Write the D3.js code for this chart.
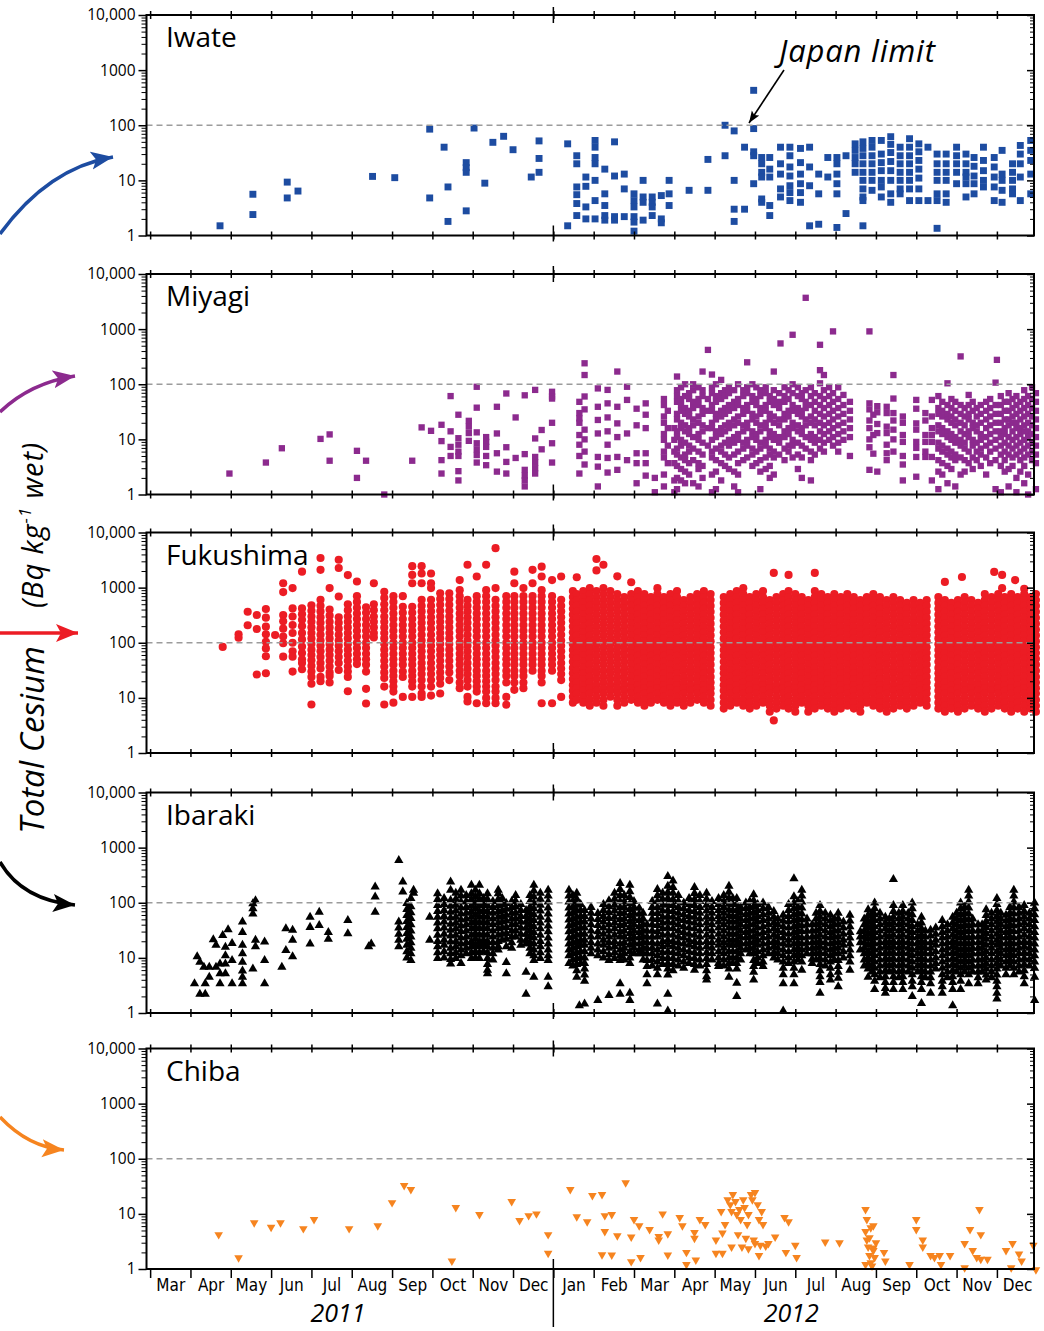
<!DOCTYPE html>
<html lang="en">
<head>
<meta charset="UTF-8" />
<title>Total cesium in food by prefecture</title>
<style>
  body { margin: 0; background: white; }
  svg { display: block; }
  .yaxis text { font-family: "Open Sans", sans-serif; font-size: 15.5px; fill: #000; }
  .months text { font-family: "Liberation Sans Narrow", "DejaVu Sans Condensed", sans-serif; font-size: 17px; fill: #000; }
  .title { font-family: "Open Sans", sans-serif; font-size: 28px; fill: #000; }
  .ital { font-family: "Open Sans", sans-serif; font-style: italic; fill: #000; }
</style>
</head>
<body>
<svg id="chart" width="1044" height="1331"></svg>
<script src="https://d3js.org/d3.v7.min.js"></script>
<script>
const prefectures = ["Iwate", "Miyagi", "Fukushima", "Ibaraki", "Chiba"];
const colors = ["#1d4ca1", "#8c2a8e", "#ec1c24", "#000000", "#f6841f"];
const shapes = ["square", "smallsquare", "circle", "up", "down"];
const yTicks = [1, 10, 100, 1000, 10000];
const yTickLabels = ["1", "10", "100", "1000", "10,000"];
const monthLabels = ["Mar","Apr","May","Jun","Jul","Aug","Sep","Oct","Nov","Dec",
                     "Jan","Feb","Mar","Apr","May","Jun","Jul","Aug","Sep","Oct","Nov","Dec"];
const years = ["2011", "2012"];
const japanLimit = 100;

// each row: sampling date : measured values (Bq/kg wet)
const iwate = [
"2011-04-23:1.5","2011-05-18:5.6,2.4","2011-06-13:9.3,4.8","2011-06-21:6.4","2011-08-17:11.8",
"2011-09-03:11.2","2011-09-29:85,4.8","2011-10-10:40","2011-10-13:7.6,1.8","2011-10-27:21,17,14,2.8",
"2011-11-02:89","2011-11-10:8.9","2011-11-16:49","2011-11-24:63","2011-12-01:36","2011-12-15:11.5",
"2011-12-21:52,25,14","2012-01-12:46,1.5","2012-01-19:28,20,7.6,5.5,3.8,2.3","2012-01-26:11.5,7.8,3.3,2",
"2012-02-02:53,40,26,20,10,4.3,2","2012-02-09:16,5.7,3.5,2.3,1.9","2012-02-16:50,12,2.2,1.9",
"2012-02-23:13,7,2.2","2012-03-01:5.7,4.3,3.3,2.2,1.75,1.2","2012-03-08:10,5,4,1.9","2012-03-15:5,4,3.3,2.3",
"2012-03-22:5.3,2,1.7","2012-03-28:10,5.7,3.5","2012-04-12:6.6","2012-04-26:24,6.6","2012-05-09:100,28",
"2012-05-16:79,10,3,1.8","2012-05-24:40,3","2012-05-31:430,87,33,28,8.7","2012-06-06:26,20,14,11.5,4.6,4",
"2012-06-12:26,16,11.5,3.5,2.3","2012-06-20:40,20,13,7,5","2012-06-27:40,28,17.5,12,8,6,4.3",
"2012-07-05:38,21,13,8.7,6,4","2012-07-12:40,17.5,8,1.5","2012-07-19:13,5.7,1.6","2012-07-26:26,11.5",
"2012-08-02:26,20,13,8.7,5.7,1.4","2012-08-09:28,2.5","2012-08-16:46,35,26,20,14",
"2012-08-22:50,38,28,20,14,10,7,5,4.3,1.5","2012-08-29:53,40,28,20,14,10,6.6","2012-09-05:53,30,21,15,10,7.6,5",
"2012-09-12:62,45,32,22,15,10,5.7,4","2012-09-19:40,28,20,14,10,7,5.7","2012-09-26:57,40,28,20,14,10,7,4.3",
"2012-10-03:46,33,23,16,11,7,4.3","2012-10-10:40,4.3","2012-10-17:30,20,14,10,5.7,4.3,1.35",
"2012-10-24:30,20,14,10,5.7,4","2012-11-01:40,28,20,14,8.7","2012-11-08:30,20,14,11.5,8.7,5",
"2012-11-14:26,18,12,8.7,5.7","2012-11-21:40,23,15,10,7.6","2012-11-29:26,17.5,11.5,7.6,4.3",
"2012-12-05:35,13,10,6.6,4","2012-12-13:20,14,10,7,5.7","2012-12-19:43,30,20,11.5,4.3","2012-12-27:53,35,23,13,5.7"
];

const miyagi = [
"2011-04-30:2.4","2011-05-28:3.8","2011-06-09:6.9","2011-07-08:10.2","2011-07-15:12.3,4.1","2011-08-05:6.2,2",
"2011-08-12:4.1","2011-08-26:1","2011-09-16:4.1","2011-09-23:16.5","2011-09-30:14.3","2011-10-08:18.4,9.3,4.2,2.4",
"2011-10-15:61,14,7.3,5","2011-10-21:28,10.5,8,6,5,2.65,1.8","2011-10-29:21.7,17,13,9.4",
"2011-11-04:90,37.6,13.4,8.5,6.6,5.2,3.8","2011-11-11:11,9,7.3,5,3.4","2011-11-19:39,12.8,5.6,2.6",
"2011-11-26:68,7.2,3.9,2.4","2011-12-03:25,4.6","2011-12-10:63,5.4,2.8,2.2,1.8,1.4","2011-12-18:79,10.4,4.8,3.8,3,2.4",
"2011-12-23:14.8,6.6","2011-12-31:73,60,55,20,8.5,3.8","2012-01-21:48,30,24,20,12,8,5,2.4",
"2012-01-25:240,147,60,35,15,10,6,3.5","2012-02-04:84,39,22.5,12.8,4.8,3.2,1.4","2012-02-11:79,45,25,14,8,4.6,2.5",
"2012-02-18:170,39,19.5,11,4.8,2.8","2012-02-25:90,52,12.8,4.2","2012-03-03:36,18,5.6,3.7,1.6",
"2012-03-10:45,28,16,5.6,3.7,2.2","2012-03-17:2,1.1","2012-03-24:54,42,26,20,12.5,9.8,6,4.7,2.3,1.4",
"2012-03-27:33,16,7.7,3.7","2012-04-01:16,9.8,6,3.7,1.8,1.1","2012-04-03:138,78,61,48,29,23,14,11,6.8,5.3,3.3,2,1.25",
"2012-04-06:88,54,42,33,20,16,9.8,7.7,4.7,2.9,1.8","2012-04-09:100,61,37,29,18,14,8.7,5.3,4.2,2.6,1.6",
"2012-04-12:69,54,33,26,16,12.5,7.7,6,3.7,2.3","2012-04-15:100,78,48,37,23,18,11,6.8,4.2,1.6",
"2012-04-19:88,54,42,26,20,12.5,9.8,6,3.7,2.9,1.4","2012-04-22:170,78,61,37,29,18,14,8.7,5.3,3.3,2",
"2012-04-26:420,54,33,16,7.7","2012-04-29:150,88,69,42,33,20,16,9.8,6,4.7,2.3,1.1",
"2012-05-02:100,61,48,29,23,14,11,6.8,4.2,2.6,1.25","2012-05-06:120,69,54,33,26,16,12.5,7.7,6,3.7,1.8",
"2012-05-09:78,61,37,29,18,14,8.7,5.3,3.3","2012-05-12:88,69,42,33,20,16,9.8,7.7,4.7,2.9",
"2012-05-16:78,48,37,23,18,11,8.7,5.3,2.6,1.4","2012-05-19:100,54,42,26,20,12.5,9.8,6,3.7,2.3,1.1",
"2012-05-23:78,61,37,29,18,14,8.7,6.8,4.2","2012-05-26:250,88,69,42,33,20,16,9.8,7.7,4.7",
"2012-05-30:100,61,48,29,23,14,11,6.8,5.3,3.3","2012-06-02:88,54,42,26,20,12.5,9.8,6,3.7",
"2012-06-05:78,61,37,29,18,14,8.7,6.8,4.2,2.6,1.25","2012-06-09:88,69,42,33,20,16,9.8,7.7,4.7,2.9",
"2012-06-12:61,48,29,23,14,11,6.8,5.3,3.3,2","2012-06-15:170,78,54,42,26,20,12.5,9.8,6,4.7,2.3",
"2012-06-19:69,48,37,23,18,11,8.7,5.3","2012-06-20:550","2012-06-23:88,61,48,29,23,14,11,6.8,4.2",
"2012-06-26:78,54,33,26,16,12.5,7.7,6","2012-06-29:790,100,69,42,33,20,16,9.8,7.7,4.7",
"2012-07-03:88,61,37,29,18,14,8.7,5.3,2.9","2012-07-06:69,54,33,26,16,12.5,7.7,4.7,2",
"2012-07-09:3700,78,48,37,23,18,11,6.8","2012-07-13:88,61,42,26,20,12.5,9.8,6,4.2,1.8",
"2012-07-16:69,48,33,23,18,11,8.7,5.3","2012-07-20:520,180,104,61,42,29,20,14,9.8,6.8",
"2012-07-23:147,78,54,37,26,18,12.5,8.7,6","2012-07-27:88,61,42,29,20,14,9.8",
"2012-07-30:910,69,48,33,23,16,11,7.7","2012-08-03:88,54,37,26,18,12.5,8.7,6","2012-08-07:64,42,29,20,14,9.8",
"2012-08-12:48,33,23,16,11,5","2012-08-27:910,45,35,22,16,10,7.2,2.8","2012-08-30:28,12,5.5",
"2012-09-02:40,31,19,13,2.6","2012-09-09:39,30,17,13,8,5.6,4.2","2012-09-14:147,55,30,22,15,10,6",
"2012-09-21:26,20,12,9,5,3.5,1.8","2012-10-01:52,36,19.5,15,9,7,4.8,2.1","2012-10-08:30,22,12,9,6,4.8",
"2012-10-13:52,26,16,12,9,4.8,1.8","2012-10-18:61,37,29,18,14,8.7,6.8,4.2,2.6,1.25","2012-10-21:48,33,26,16,12.5,7.7,6,3.7,2.3",
"2012-10-25:104,42,29,23,14,11,6.8,5.3,3.3,1.6","2012-10-28:54,37,26,20,12.5,9.8,6,4.7,2.9",
"2012-10-31:48,33,23,18,11,8.7,5.3,4.2,1.4","2012-11-04:320,42,29,20,14,9.8,7.7,4.7,2.3",
"2012-11-07:37,26,18,12.5,8.7,6.8,4.2,2.6","2012-11-10:64,42,29,23,14,11,6,3.7","2012-11-13:48,33,20,16,9.8,7.7,4.7,2.9",
"2012-11-16:37,26,18,14,8.7,6,4.2","2012-11-19:42,29,20,12.5,9.8,6.8,5.3,3.3","2012-11-23:48,33,23,16,11,7.7,4.7,2.3",
"2012-11-26:54,37,26,18,12.5,8.7,6,3.7","2012-11-30:107,42,29,20,14,9.8,6.8,4.2,1.25","2012-12-01:277",
"2012-12-04:61,42,29,20,14,11,7.7,5.3,3.3,1.1","2012-12-07:48,33,23,16,12.5,8.7,6,4.2,2.6",
"2012-12-10:69,48,33,23,18,11,7.7,5.3,2.9,1.4","2012-12-13:54,37,26,20,14,9.8,6.8,4.7,3.3",
"2012-12-16:61,42,29,20,16,11,7.7,5.3,2,1.1","2012-12-19:48,33,23,16,12.5,8.7,6,4.2,2.6",
"2012-12-22:78,54,37,26,18,14,9.8,6.8,4.7,3.3,1.6","2012-12-25:61,42,29,20,14,11,7.7,5.3,2.3,1",
"2012-12-28:88,54,37,26,18,12.5,8.7,6,4.2","2012-12-31:69,48,33,23,16,11,7.7,5.3,3.7,1.25"
];

const fukushima = [
"2011-04-25:84","2011-05-07:142,123","2011-05-14:365,208","2011-05-21:318,178,26.6",
"2011-05-28:410,285,196,142,104,79,57,28","2011-06-04:138","2011-06-10:1200,830,318,245,180,130,98,56",
"2011-06-17:980,420,300,210,150,100,70,56,30","2011-06-24:1950,420,330,260,200,150,115,85,65,50,43,33",
"2011-07-01:480,380,300,240,190,150,120,95,75,60,48,38,30,24,18,7.6",
"2011-07-08:3440,2100,600,470,370,290,230,180,140,110,88,70,55,43,34,24,20",
"2011-07-15:980,400,310,240,190,150,120,95,75,60,47,37,29,25,19",
"2011-07-22:3200,2270,690,290,230,180,140,110,88,70,55,43,32",
"2011-07-29:1690,500,390,300,240,190,150,120,95,75,60,47,37,30,24,13.2",
"2011-08-05:1290,700,550,430,340,270,210,165,130,100,80,63,50,41",
"2011-08-12:440,350,270,210,165,130,100,80,63,50,40,30,14.6,7.9","2011-08-18:1200,500,390,300,240,190,150,125",
"2011-08-26:840,650,500,390,300,240,190,150,120,95,75,60,47,37,29,23,16,7.6",
"2011-09-02:700,550,430,340,270,210,165,130,100,80,63,50,40,31,25,20,16,13,8.2",
"2011-09-09:700,450,350,270,210,165,130,100,80,63,50,40,30,24,10.4",
"2011-09-16:2450,1700,1200,450,350,270,210,165,130,100,80,63,50,40,31,25,20,16,10.4",
"2011-09-23:2450,1800,1200,600,470,370,290,230,180,140,110,88,70,55,43,34,27,21,16,12,10.4",
"2011-09-30:1800,1200,980,600,470,370,290,230,180,140,110,88,70,55,43,34,27,21,16,11",
"2011-10-07:790,620,490,380,300,240,190,150,120,95,75,60,47,37,29,23,18,12",
"2011-10-14:790,620,490,380,300,240,190,150,120,95,75,60,47,37,29,21",
"2011-10-22:1370,900,700,550,430,340,270,210,165,130,100,80,63,50,40,31,25,19,15",
"2011-10-28:2600,600,470,370,290,230,180,140,110,88,70,55,43,34,27,21,16,10.4,8.6",
"2011-11-04:1590,700,550,430,340,270,210,165,130,100,80,63,50,40,31,25,20,16,13,8",
"2011-11-11:2600,900,700,550,430,340,270,210,165,130,100,80,63,50,40,31,25,20,16,13,10,8",
"2011-11-18:5200,980,600,470,370,290,230,180,140,110,88,70,55,43,34,27,21,16,13,10,8",
"2011-11-26:700,550,430,340,270,210,165,130,100,80,63,50,40,31,25,19,10.4,7.5",
"2011-12-02:1950,1200,700,550,430,340,270,210,165,130,100,80,63,50,40,31,25,19,14",
"2011-12-09:980,700,550,430,340,270,210,165,130,100,80,63,50,40,31,25,19,15",
"2011-12-16:2100,1200,700,550,430,340,270,210,165,130,100,80,63,50,40,31",
"2011-12-23:2400,1590,900,700,550,430,340,270,210,165,130,100,80,63,50,40,31,25,19,8",
"2011-12-31:1370,700,550,430,340,270,210,165,130,100,80,63,50,40,31,8",
"2012-01-07:1590,600,470,370,290,230,180,140,110,88,70,55,43,34,27,21,10.4",
"2012-01-16:864,675,528,413,323,252,197,155,120,94,74,58,45,35,28,22,17,13.5,10.5,8.2",
"2012-01-19:1540,763,596,466,364,284,222,174,136,106,83,65,51,40,31,24,19,15,12,9.2",
"2012-01-24:864,675,528,413,323,252,197,155,120,94,74,58,45,35,28,22,17,13.5,10.5,8.2",
"2012-01-29:977,763,596,466,364,284,222,174,136,106,83,65,51,40,31,24,19,15,12,9.2,7.2",
"2012-02-03:3300,2050,864,675,528,413,323,252,197,155,120,94,74,58,45,35,28,22,17,13.5,10.5,8.2",
"2012-02-08:2600,977,763,596,466,364,284,222,174,136,106,83,65,51,40,31,24,19,15,12,9.2,7.2",
"2012-02-13:864,675,528,413,323,252,197,155,120,94,74,58,45,35,28,22,17,13.5,10.5",
"2012-02-18:1600,763,596,466,364,284,222,174,136,106,83,65,51,40,31,24,19,15,12,9.2,7.2",
"2012-02-23:675,528,413,323,252,197,155,120,94,74,58,45,35,28,22,17,13.5,10.5,8.2",
"2012-02-28:1250,763,596,466,364,284,222,174,136,106,83,65,51,40,31,24,19,15,12,9.2",
"2012-03-04:864,675,528,413,323,252,197,155,120,94,74,58,45,35,28,22,17,13.5,10.5,8.2",
"2012-03-09:763,596,466,364,284,222,174,136,106,83,65,51,40,31,24,19,15,12,9.2,7.2",
"2012-03-14:675,528,413,323,252,197,155,120,94,74,58,45,35,28,22,17,13.5,10.5,8.2",
"2012-03-19:977,763,596,466,364,284,222,174,136,106,83,65,51,40,31,24,19,15,12,9.2",
"2012-03-24:675,528,413,323,252,197,155,120,94,74,58,45,35,28,22,17,13.5,10.5,8.2",
"2012-03-29:763,596,466,364,284,222,174,136,106,83,65,51,40,31,24,19,15,12,9.2,7.2",
"2012-04-03:864,675,528,413,323,252,197,155,120,94,74,58,45,35,28,22,17,13.5,10.5,8.2",
"2012-04-08:596,466,364,284,222,174,136,106,83,65,51,40,31,24,19,15,12,9.2,7.2",
"2012-04-13:675,528,413,323,252,197,155,120,94,74,58,45,35,28,22,17,13.5,10.5,8.2",
"2012-04-18:763,596,466,364,284,222,174,136,106,83,65,51,40,31,24,19,15,12,9.2",
"2012-04-23:864,675,528,413,323,252,197,155,120,94,74,58,45,35,28,22,17,13.5,10.5,8.2",
"2012-04-28:763,596,466,364,284,222,174,136,106,83,65,51,40,31,24,19,15,12,9.2,7.2",
"2012-05-08:675,528,413,323,252,197,155,120,94,74,58,45,35,28,22,17,13.5,10.5,8.2,6.4",
"2012-05-13:763,596,466,364,284,222,174,136,106,83,65,51,40,31,24,19,15,12,9.2,7.2",
"2012-05-18:864,675,528,413,323,252,197,155,120,94,74,58,45,35,28,22,17,13.5,10.5,8.2",
"2012-05-23:977,763,596,466,364,284,222,174,136,106,83,65,51,40,31,24,19,15,12,9.2,7.2",
"2012-05-28:675,528,413,323,252,197,155,120,94,74,58,45,35,28,22,17,13.5,10.5,8.2,6.4",
"2012-06-02:763,596,466,364,284,222,174,136,106,83,65,51,40,31,24,19,15,12,9.2,7.2",
"2012-06-07:864,675,528,413,323,252,197,155,120,94,74,58,45,35,28,22,17,13.5,10.5,8.2",
"2012-06-12:596,466,364,284,222,174,136,106,83,65,51,40,31,24,19,15,12,9.2,7.2,5.6",
"2012-06-15:1850,3.9",
"2012-06-17:675,528,413,323,252,197,155,120,94,74,58,45,35,28,22,17,13.5,10.5,8.2,6.4",
"2012-06-22:763,596,466,364,284,222,174,136,106,83,65,51,40,31,24,19,15,12,9.2,7.2",
"2012-06-26:1700,864,675,528,413,323,252,197,155,120,94,74,58,45,35,28,22,17,13.5,10.5,8.2,6.4",
"2012-07-01:763,596,466,364,284,222,174,136,106,83,65,51,40,31,24,19,15,12,9.2,7.2,5.6",
"2012-07-06:675,528,413,323,252,197,155,120,94,74,58,45,35,28,22,17,13.5,10.5,8.2",
"2012-07-11:596,466,364,284,222,174,136,106,83,65,51,40,31,24,19,15,12,9.2,7.2,5.6",
"2012-07-16:1850,864,675,528,413,323,252,197,155,120,94,74,58,45,35,28,22,17,13.5,10.5,8.2,6.4",
"2012-07-21:763,596,466,364,284,222,174,136,106,83,65,51,40,31,24,19,15,12,9.2,7.2",
"2012-07-26:675,528,413,323,252,197,155,120,94,74,58,45,35,28,22,17,13.5,10.5,8.2,6.4",
"2012-07-31:763,596,466,364,284,222,174,136,106,83,65,51,40,31,24,19,15,12,9.2,7.2,5.6",
"2012-08-05:675,528,413,323,252,197,155,120,94,74,58,45,35,28,22,17,13.5,10.5,8.2,6.4",
"2012-08-10:763,596,466,364,284,222,174,136,106,83,65,51,40,31,24,19,15,12,9.2,7.2",
"2012-08-15:675,528,413,323,252,197,155,120,94,74,58,45,35,28,22,17,13.5,10.5,8.2,6.4",
"2012-08-20:596,466,364,284,222,174,136,106,83,65,51,40,31,24,19,15,12,9.2,7.2,5.6",
"2012-08-25:675,528,413,323,252,197,155,120,94,74,58,45,35,28,22,17,13.5,10.5,8.2",
"2012-08-30:763,596,466,364,284,222,174,136,106,83,65,51,40,31,24,19,15,12,9.2,7.2",
"2012-09-04:675,528,413,323,252,197,155,120,94,74,58,45,35,28,22,17,13.5,10.5,8.2,6.4",
"2012-09-09:596,466,364,284,222,174,136,106,83,65,51,40,31,24,19,15,12,9.2,7.2,5.6",
"2012-09-14:675,528,413,323,252,197,155,120,94,74,58,45,35,28,22,17,13.5,10.5,8.2,6.4",
"2012-09-19:596,466,364,284,222,174,136,106,83,65,51,40,31,24,19,15,12,9.2,7.2",
"2012-09-24:528,413,323,252,197,155,120,94,74,58,45,35,28,22,17,13.5,10.5,8.2,6.4",
"2012-09-29:596,466,364,284,222,174,136,106,83,65,51,40,31,24,19,15,12,9.2,7.2",
"2012-10-04:528,413,323,252,197,155,120,94,74,58,45,35,28,22,17,13.5,10.5,8.2",
"2012-10-09:596,466,364,284,222,174,136,106,83,65,51,40,31,24,19,15,12,9.2,7.2",
"2012-10-18:675,528,413,323,252,197,155,120,94,74,58,45,35,28,22,17,13.5,10.5,8.2,6.4",
"2012-10-23:1270,596,466,364,284,222,174,136,106,83,65,51,40,31,24,19,15,12,9.2,7.2,5.6",
"2012-10-28:528,413,323,252,197,155,120,94,74,58,45,35,28,22,17,13.5,10.5,8.2,6.4",
"2012-11-02:596,466,364,284,222,174,136,106,83,65,51,40,31,24,19,15,12,9.2,7.2,5.6",
"2012-11-05:1560",
"2012-11-07:675,528,413,323,252,197,155,120,94,74,58,45,35,28,22,17,13.5,10.5,8.2,6.4",
"2012-11-12:596,466,364,284,222,174,136,106,83,65,51,40,31,24,19,15,12,9.2,7.2",
"2012-11-17:528,413,323,252,197,155,120,94,74,58,45,35,28,22,17,13.5,10.5,8.2,6.4",
"2012-11-22:763,596,466,364,284,222,174,136,106,83,65,51,40,31,24,19,15,12,9.2,7.2,5.6",
"2012-11-27:675,528,413,323,252,197,155,120,94,74,58,45,35,28,22,17,13.5,10.5,8.2,6.4",
"2012-11-29:1930",
"2012-12-02:763,596,466,364,284,222,174,136,106,83,65,51,40,31,24,19,15,12,9.2,7.2",
"2012-12-05:1700,977",
"2012-12-07:675,528,413,323,252,197,155,120,94,74,58,45,35,28,22,17,13.5,10.5,8.2,6.4",
"2012-12-12:763,596,466,364,284,222,174,136,106,83,65,51,40,31,24,19,15,12,9.2,7.2,5.6",
"2012-12-15:1370",
"2012-12-17:675,528,413,323,252,197,155,120,94,74,58,45,35,28,22,17,13.5,10.5,8.2,6.4",
"2012-12-22:950,763,596,466,364,284,222,174,136,106,83,65,51,40,31,24,19,15,12,9.2,7.2,5.6",
"2012-12-27:675,528,413,323,252,197,155,120,94,74,58,45,35,28,22,17,13.5,10.5,8.2,6.4",
"2012-12-31:763,596,466,364,284,222,174,136,106,83,65,51,40,31,24,19,15,12,9.2,7.2,5.6"
];

const ibaraki = [
"2011-04-04:3.4","2011-04-06:10.6","2011-04-08:2.2,8.4","2011-04-11:6.8","2011-04-12:2.2,3.4","2011-04-15:4.5,6.8",
"2011-04-18:21.5","2011-04-20:17,6.8","2011-04-23:7.8,5.2,3.4","2011-04-25:25.6","2011-04-27:15.7,11,7.8,5.2",
"2011-04-29:32.6","2011-05-02:18.3,9,3.4","2011-05-10:45,29,17,12,8.4,5.8,4.5,3.4","2011-05-18:97,78,63,6.3",
"2011-05-20:110,21,16","2011-05-27:19.5,9,3.4","2011-06-09:6.8","2011-06-12:34,13.7","2011-06-17:32,21,10.6",
"2011-06-30:55,36,18","2011-07-07:68,39","2011-07-14:29,22","2011-07-29:48,27.5","2011-08-14:16","2011-08-16:18",
"2011-08-19:194,128,68","2011-09-06:590,45,35,27,21,16","2011-09-09:240,157","2011-09-12:98,76,59,46,36,28,22,17,13,10",
"2011-09-15:120,85,66,52,40,31,24,19,15,12,9","2011-09-17:170,150","2011-09-29:55,21",
"2011-10-05:147,115,90,70,55,43,34,26,20,16,12.5,9.8","2011-10-10:120,94,73,57,45,35,27,21,17,13,10",
"2011-10-15:240,170,111,87,68,53,41,32,25,19.5,15,12,9.4,7.8","2011-10-19:150,117,91,71,55,43,34,26,20,16,12.5,9.8",
"2011-10-23:170,133,104,81,63,49,38,30,23,18,14,11,8","2011-10-27:136,106,83,65,51,40,31,24,19,15,12",
"2011-10-31:210,147,115,90,70,55,43,34,26,20,16,12.5,9.8","2011-11-03:170,130,100,78,60,46,36,28,22,17,13,10",
"2011-11-06:210,147,115,90,70,55,43,34,26,20,16,12.5,9.8","2011-11-09:120,94,73,57,45,35,27,21,17,13",
"2011-11-12:147,115,90,70,55,43,34,26,20,16,12.5,9.8,7.6,6,5.2","2011-11-16:106,83,65,51,40,31,24,19,15,12,9.2",
"2011-11-20:170,147,115,90,70,55,43,34,26,20,16,14","2011-11-23:120,94,73,57,45,35,27,21",
"2011-11-26:98,77,60,47,36,28,22,16,8.3,5.2","2011-11-30:106,83,65,51,40,31,24,19,15",
"2011-12-03:137,107,84,65,51,40,31,24","2011-12-07:94,73,57,45,35,27,21,17","2011-12-11:73,57,45,35,27,21,18,5.5,2.2",
"2011-12-14:136,106,83,65,51,40,31,24,19,15,12","2011-12-17:210,164,128,100,78,61,48,37,29,23,18,14,11,9,4.5",
"2011-12-22:150,117,91,71,55,43,34,26,20,16,12.5,9.8","2011-12-28:170,133,104,81,63,49,38,30,23,18,14,11,9,4.5,3",
"2012-01-13:170,133,104,81,63,49,38,30,23,18,14,11,8","2012-01-16:136,106,83,65,51,40,31,24,19,15,12,9.2,7.2",
"2012-01-19:150,117,91,71,55,43,34,26,20,16,12.5,9.8,7.6,5.9,4.5","2012-01-21:1.37","2012-01-22:94,73,57,45,35,27,21,17,13,10,8",
"2012-01-25:73,57,45,35,27,21,17,13,10,8,6.3,4.9,3.8,1.47","2012-01-30:83,65,51,40,31,24,19,15,12",
"2012-02-04:64,50,39,30,24,18,14,11,1.7","2012-02-08:94,73,57,45,35,27,21,17,13,10",
"2012-02-12:110,85,66,52,40,31,24,19,15,11.5,9,2.1","2012-02-16:150,117,91,71,55,43,34,26,20,16,12.5,9.8",
"2012-02-20:225,175,135,105,82,64,50,39,30,24,18,14,11,9,3.4,2.2","2012-02-23:136,106,83,65,51,40,31,24,19,15,12,9.2",
"2012-02-27:210,160,125,97,76,59,46,36,28,22,17,13,10,8,2.3,1.7","2012-03-01:106,83,65,51,40,31,24,19,15,12",
"2012-03-05:80,62,48,37,29,23,18,14,12","2012-03-08:65,51,40,31,24,19,15,12,9.2",
"2012-03-11:40,31,24,19,15,12,9,7,5,3.4","2012-03-15:106,83,65,51,40,31,24,19,15,12,9.2,7.2",
"2012-03-19:175,135,105,82,64,50,39,30,24,18,14,11,8.5,6.5,5,1.47","2012-03-23:150,117,91,71,55,43,34,26,20,16,12.5,9.8,7.6",
"2012-03-27:300,200,155,120,94,73,57,45,35,27,21,17,13,10,8,6.3,4.9,2.2,1.1",
"2012-03-31:250,190,150,115,90,70,55,43,34,26,20,16,12.5,9.8,7.6,5.9","2012-04-04:136,106,83,65,51,40,31,24,19,15,12,9.2,7.2",
"2012-04-08:100,78,61,48,37,29,23,18,14,11,8.5,6.5","2012-04-12:120,94,73,57,45,35,27,21,17,13,10,8",
"2012-04-16:190,148,115,90,70,55,43,34,26,20,16,12.5,9.8,7.6,6","2012-04-20:136,106,83,65,51,40,31,24,19,15,12,9.2,7.2",
"2012-04-25:150,117,91,71,55,43,34,26,20,16,12.5,9.8,7.6,5.9,4.6,4","2012-04-29:106,83,65,51,40,31,24,19,15,12,9.2",
"2012-05-04:120,94,73,57,45,35,27,21,17,13,10,8,7","2012-05-08:136,106,83,65,51,40,31,24,19,15,12,9.2,7.2",
"2012-05-12:200,156,122,95,74,58,45,35,27,21,17,13,10,8,6.3,4.5","2012-05-15:120,94,73,57,45,35,27,21,17,13,10,8",
"2012-05-18:120,94,73,57,45,35,27,21,17,13,10,8,6.3,3.5,2","2012-05-21:83,65,51,40,31,24,19,15,12,9.2",
"2012-05-25:100,78,61,48,37,29,23,18,14","2012-05-28:106,83,65,51,40,31,24,19,15,12",
"2012-05-31:140,109,85,66,52,40,31,24,19,15,12,9,7,5.5,4","2012-06-03:94,73,57,45,35,27,21,17,13,10,8",
"2012-06-07:100,78,61,48,37,29,23,18,14,11,8.5,7","2012-06-11:83,65,51,40,31,24,19,15,12",
"2012-06-15:70,55,43,34,26,20,16,12.5,10","2012-06-18:51,40,31,24,19,15,12,9.2",
"2012-06-22:60,47,37,29,23,18,14,11,8.5,6.5,5,3.4,1.1","2012-06-26:94,73,57,45,35,27,21,17,13,10,8",
"2012-06-30:275,130,100,78,61,48,37,29,23,18,14,11,8.5,6.5,5,3.4","2012-07-03:106,83,65,51,40,31,24,19,15,12,9.2",
"2012-07-06:170,133,104,81,63,49,38,30,23,18,14,11,8.5,6","2012-07-10:51,40,31,24,19,15,12",
"2012-07-14:40,31,24,19,15,12,9.5,8","2012-07-17:65,51,40,31,24,19,15,12,9.2",
"2012-07-20:90,70,55,43,34,26,20,16,12.5,9.8,7.6,5.9,4.6,3.6,2.3","2012-07-24:65,51,40,31,24,19,15,12,9.2,7.2",
"2012-07-28:60,47,37,29,23,18,14,11,8.5,6.5,5,4","2012-07-31:51,40,31,24,19,15,12,9.2",
"2012-08-03:65,51,40,31,24,19,15,12,9,7,5.5,4.3,3","2012-08-07:45,35,27,21,17,13,10",
"2012-08-12:60,47,37,29,23,18,14,11,8.5,6","2012-08-20:30,24,19,14","2012-08-23:51,40,31,24,19,15,12,9.2,7.2",
"2012-08-26:75,59,46,36,28,22,17,13,10,8,6.3,4.5","2012-08-29:65,51,40,31,24,19,15,12,9.2,7.2,5.6",
"2012-08-31:100,78,61,48,37,29,23,18,14,11,8.5,6.5,5,3.8,2.7","2012-09-04:65,51,40,31,24,19,15,12,9.2,7.2,5.6,4.4",
"2012-09-08:55,43,34,26,20,16,12.5,9.8,7.6,5.9,4.6,3.6,2.8,2.3","2012-09-11:51,40,31,24,19,15,12,9.2,7.2,5.6",
"2012-09-14:265,90,70,55,43,34,26,20,16,12.5,9.8,7.6,5.9,4.6,3.6,2.7","2012-09-18:65,51,40,31,24,19,15,12,9.2,7.2,5.6,4.4",
"2012-09-21:90,70,55,43,34,26,20,16,12.5,9.8,7.6,5.9,4.6,3.6,2.7","2012-09-25:65,51,40,31,24,19,15,12,9.2,7.2,5.6",
"2012-09-28:100,78,61,48,37,29,23,18,14,11,8.5,6.5,5,3.8,3,2","2012-10-02:40,31,24,19,15,12,9.2,7.2,5.6",
"2012-10-05:55,43,34,26,20,16,12.5,9.8,7.6,5.9,4.6,3.6,2.7,1.5","2012-10-08:31,24,19,15,12,9.2,7.2,5.6,4.4",
"2012-10-12:32,25,19,15,12,9.2,7.2,5.6,4.4,3.4,2.3","2012-10-16:35,27,21,17,13,10,8,6.3",
"2012-10-21:48,37,29,23,18,14,11,8.5,6.5,5,3.8,3,2.3","2012-10-25:40,31,24,19,15,12,9.2,7.2,5.6,4.4",
"2012-10-29:55,43,34,26,20,16,12.5,9.8,7.6,5.9,4.6,3.6,2.7,1.37","2012-11-01:65,51,40,31,24,19,15,12,9.2,7.2,5.6",
"2012-11-04:100,78,61,48,37,29,23,18,14,11,8.5,6.5,5,3.8,2.7","2012-11-07:83,65,51,40,31,24,19,15,12,9.2,7.2,5.6",
"2012-11-10:170,133,104,81,63,49,38,30,23,18,14,11,8.5,6.5,5,3.4","2012-11-13:51,40,31,24,19,15,12,9.2,7.2,5.6",
"2012-11-17:40,31,24,19,15,12,9.2,7.2,5.6,4.4,3.4","2012-11-20:40,31,24,19,15,12,9.2,7.2,5.6",
"2012-11-23:75,59,46,36,28,22,17,13,10,8,6.3,4.9,4","2012-11-27:65,51,40,31,24,19,15,12,9.2,7.2,5.6,4.4",
"2012-12-01:120,94,73,57,45,35,27,21,17,13,10,8,6.3,4.9,3.8,3,2.3,1.8","2012-12-04:65,51,40,31,24,19,15,12,9.2,7.2",
"2012-12-08:60,47,37,29,23,18,14,11,8.5,6.5,5","2012-12-11:83,65,51,40,31,24,19,15,12,9.2,7.2",
"2012-12-14:170,133,104,81,63,49,38,30,23,18,14,11,8.5,6.5,5","2012-12-18:83,65,51,40,31,24,19,15,12,9.2,7.2,5.6",
"2012-12-22:90,70,55,43,34,26,20,16,12.5,9.8,7.6,5.9,4.6,3.4","2012-12-26:65,51,40,31,24,19,15,12,9.2,7.2",
"2012-12-30:100,78,61,48,37,29,23,18,14,11,8.5,6.5,4.5,1.7"
];

const chiba = [
"2011-04-22:4.2","2011-05-07:1.6","2011-05-19:6.9","2011-06-01:5.7","2011-06-08:6.9","2011-06-25:5.4","2011-07-03:7.9",
"2011-07-30:5.4","2011-08-21:6.1","2011-09-01:16","2011-09-10:32.6","2011-09-15:27.6","2011-10-16:1.4","2011-10-19:13",
"2011-11-06:9.7","2011-11-30:16.7","2011-12-06:7.6","2011-12-13:9.3","2011-12-19:10","2011-12-28:4.2,1.93",
"2012-01-14:27.6","2012-01-19:8.9","2012-01-27:7.2","2012-01-31:21.5","2012-02-07:22.4,1.82","2012-02-09:9.3,4.8",
"2012-02-14:9.7,1.8","2012-02-18:4","2012-02-24:36.8","2012-02-28:3.8,1.36","2012-03-01:7.9","2012-03-05:6.1",
"2012-03-06:1.62","2012-03-13:5.2","2012-03-20:3.9,3.35","2012-03-23:10","2012-03-27:4.35,1.8","2012-04-05:8.6",
"2012-04-07:6.1","2012-04-10:2,1.21","2012-04-16:4.6,3.6","2012-04-17:1.45","2012-04-20:7.9","2012-04-24:6.4",
"2012-05-02:3.35,1.93","2012-05-06:11","2012-05-07:4.5,1.93","2012-05-09:6.4","2012-05-11:18","2012-05-13:14.7",
"2012-05-14:11,2.5","2012-05-15:22.5","2012-05-17:16.8","2012-05-18:9.7","2012-05-19:4.2","2012-05-20:12",
"2012-05-21:7.9","2012-05-22:2.5","2012-05-23:18","2012-05-24:13","2012-05-25:3.6","2012-05-26:6.4",
"2012-05-27:9.7,2.33","2012-05-29:22.5","2012-05-30:18","2012-05-31:3.35","2012-06-01:24.4,2.9","2012-06-03:14.7",
"2012-06-04:7.9,1.75","2012-06-05:2.7","2012-06-06:11","2012-06-07:6.4","2012-06-09:2.6","2012-06-11:2.9",
"2012-06-16:3.8","2012-06-23:8.6","2012-06-24:2","2012-06-26:7.2","2012-07-01:2.7","2012-07-02:1.62",
"2012-07-24:3.1","2012-08-04:3","2012-08-24:12,4.8,1.21","2012-08-25:7.9,3.35","2012-08-26:2.5","2012-08-27:3.7,1.75",
"2012-08-28:5.6,1.3","2012-08-29:1.13","2012-08-30:6.1,2.17,2.4","2012-08-31:1.62","2012-09-01:3","2012-09-07:2",
"2012-09-08:1.4","2012-09-26:1.21","2012-10-01:7.9,5.2","2012-10-06:3.35,2.5","2012-10-12:1.75","2012-10-15:1.62",
"2012-10-19:1.75","2012-10-20:1.21","2012-10-27:1.75","2012-11-07:2.9,1.05","2012-11-11:5.2","2012-11-13:2.17",
"2012-11-16:1.62","2012-11-18:12","2012-11-19:4.2,1.5","2012-11-24:1.5","2012-12-08:2.17","2012-12-12:1.05",
"2012-12-13:2.9","2012-12-18:1.87","2012-12-20:1.4","2012-12-29:2.7","2012-12-31:0.97"
];

const series = [iwate, miyagi, fukushima, ibaraki, chiba];

const svg = d3.select("#chart");
const left = 146.5, right = 1034;
const panelTops = [15, 274, 532.5, 792.5, 1048.5];
const panelH = 220.5;

// months are spaced evenly on the time axis: 0 = 1 Mar 2011
const x = d3.scaleLinear().domain([-0.09, 21.92]).range([left, right]);
const parse = d3.timeParse("%Y-%m-%d");
function monthPos(d) {
  const m0 = d3.timeMonth.floor(d), m1 = d3.timeMonth.offset(m0, 1);
  return (m0.getFullYear() - 2011) * 12 + m0.getMonth() - 2 + (d - m0) / (m1 - m0);
}
function unpack(rows) {
  return rows.flatMap(r => {
    const [d, vs] = r.split(":");
    const date = parse(d);
    return vs.split(",").map(v => ({ date, value: +v }));
  });
}

const symbols = {
  square: d3.symbol(d3.symbolSquare, 48)(),
  smallsquare: d3.symbol(d3.symbolSquare, 40)(),
  circle: d3.symbol(d3.symbolCircle, 52)(),
  up: d3.symbol(d3.symbolTriangle, 37)(),
  down: d3.symbol(d3.symbolTriangle, 32)()
};

const minorTicks = [];
[1, 10, 100, 1000].forEach(k => d3.range(2, 10).forEach(j => minorTicks.push(j * k)));
const monthTicks = d3.range(0, 22);
const noDomain = g => g.select(".domain").remove();
const thick = g => g.selectAll("line").attr("stroke-width", 1.5);

prefectures.forEach((name, i) => {
  const top = panelTops[i], bottom = top + panelH;
  const y = d3.scaleLog().domain([1, 10000]).range([bottom, top]);
  const g = svg.append("g");
  const shape = shapes[i];

  g.append("g").selectAll("path")
    .data(unpack(series[i]))
    .join("path")
      .attr("d", symbols[shape])
      .attr("transform", d => `translate(${x(monthPos(d.date))},${y(d.value)})` + (shape === "down" ? " rotate(180)" : ""))
      .attr("fill", colors[i]);

  g.append("line")
    .attr("x1", left).attr("x2", right)
    .attr("y1", y(japanLimit)).attr("y2", y(japanLimit))
    .attr("stroke", "#9c9c9c").attr("stroke-width", 1.6).attr("stroke-dasharray", "6,4");

  g.append("rect")
    .attr("x", left).attr("y", top).attr("width", right - left).attr("height", panelH)
    .attr("fill", "none").attr("stroke", "#000").attr("stroke-width", 2);

  g.append("g").attr("class", "yaxis").attr("transform", `translate(${left},0)`)
    .call(d3.axisLeft(y).tickValues(yTicks).tickFormat((d, j) => yTickLabels[j]).tickSize(8).tickPadding(3))
    .call(noDomain).call(thick)
    .attr("font-family", null).attr("font-size", null);
  g.append("g").attr("transform", `translate(${left},0)`)
    .call(d3.axisLeft(y).tickValues(minorTicks).tickFormat("").tickSize(5)).call(noDomain);
  g.append("g").attr("transform", `translate(${right},0)`)
    .call(d3.axisRight(y).tickValues(yTicks).tickFormat("").tickSize(-7)).call(noDomain).call(thick);
  g.append("g").attr("transform", `translate(${right},0)`)
    .call(d3.axisRight(y).tickValues(minorTicks).tickFormat("").tickSize(-4)).call(noDomain);

  g.append("g").attr("transform", `translate(0,${top})`)
    .call(d3.axisTop(x).tickValues(monthTicks).tickFormat("").tickSize(4)).call(noDomain).call(thick);
  g.append("g").attr("transform", `translate(0,${top})`)
    .call(d3.axisBottom(x).tickValues(monthTicks).tickFormat("").tickSize(4)).call(noDomain).call(thick);
  if (i < prefectures.length - 1) {
    g.append("g").attr("transform", `translate(0,${bottom})`)
      .call(d3.axisTop(x).tickValues(monthTicks).tickFormat("").tickSize(4)).call(noDomain).call(thick);
    g.append("g").attr("transform", `translate(0,${bottom})`)
      .call(d3.axisBottom(x).tickValues(monthTicks).tickFormat("").tickSize(4)).call(noDomain).call(thick);
  } else {
    g.append("g").attr("transform", `translate(0,${bottom})`)
      .call(d3.axisBottom(x).tickValues(monthTicks).tickFormat("").tickSize(9)).call(noDomain).call(thick);
    g.append("g").attr("class", "months").attr("transform", `translate(0,${bottom})`)
      .call(d3.axisBottom(x).tickValues(monthTicks.map(m => m + 0.5)).tickFormat((d, j) => monthLabels[j]).tickSize(0).tickPadding(10))
      .call(noDomain)
      .attr("font-family", null).attr("font-size", null);
  }

  // year boundary
  const xy = x(10);
  g.append("line").attr("x1", xy).attr("x2", xy).attr("y1", top - 8).attr("y2", top + 8)
    .attr("stroke", "#000").attr("stroke-width", 1.5);
  g.append("line").attr("x1", xy).attr("x2", xy).attr("y1", bottom - 10)
    .attr("y2", i === prefectures.length - 1 ? 1327 : bottom + 6)
    .attr("stroke", "#000").attr("stroke-width", 1.5);

  g.append("text").attr("class", "title").attr("x", 166).attr("y", top + 32).text(name);
});

// year labels under the month axis
svg.selectAll(".year").data(years).join("text")
  .attr("class", "ital")
  .attr("x", (d, j) => x(j === 0 ? 4.66 : 15.9))
  .attr("y", 1322)
  .attr("text-anchor", "middle")
  .attr("font-size", 25)
  .text(d => d);

// Japan limit annotation
const defs = svg.append("defs");
defs.append("marker").attr("id", "headBlack")
  .attr("viewBox", "0 -5 12 10").attr("refX", 12).attr("refY", 0)
  .attr("markerWidth", 12).attr("markerHeight", 10).attr("markerUnits", "userSpaceOnUse")
  .attr("orient", "auto")
  .append("path").attr("d", "M0,-4.5L12,0L0,4.5L2.5,0Z").attr("fill", "#000");
svg.append("text").attr("class", "ital").attr("x", 779).attr("y", 62)
  .attr("font-size", 31).attr("letter-spacing", 0.8).text("Japan limit");
svg.append("line").attr("x1", 784).attr("y1", 70).attr("x2", 749).attr("y2", 123)
  .attr("stroke", "#000").attr("stroke-width", 1.6).attr("marker-end", "url(#headBlack)");

// coloured arrows on the left
const arrowPaths = [
  "M0,234 Q48,168 113,157",
  "M0,412 Q30,383 75,376",
  "M0,633 L78,633",
  "M0,862 Q22,900 75,905",
  "M0,1117 Q28,1147 64,1150"
];
colors.forEach((c, i) => {
  defs.append("marker").attr("id", "head" + i)
    .attr("viewBox", "0 -10 22 20").attr("refX", 22).attr("refY", 0)
    .attr("markerWidth", 22).attr("markerHeight", 20).attr("markerUnits", "userSpaceOnUse")
    .attr("orient", "auto")
    .append("path").attr("d", "M0,-9L22,0L0,9L5,0Z").attr("fill", c);
  svg.append("path").attr("d", arrowPaths[i])
    .attr("fill", "none").attr("stroke", c).attr("stroke-width", 3.5)
    .attr("marker-end", `url(#head${i})`);
});

// vertical axis title
svg.append("text").attr("class", "ital")
  .attr("transform", "translate(44,740) rotate(-90)")
  .attr("text-anchor", "middle").attr("font-size", 33)
  .text("Total Cesium");
const unit = svg.append("text").attr("class", "ital")
  .attr("transform", "translate(43,525) rotate(-90)")
  .attr("text-anchor", "middle").attr("font-size", 29).attr("letter-spacing", 0.9);
unit.append("tspan").text("(Bq kg");
unit.append("tspan").attr("font-size", 17).attr("dy", -12).text("-1");
unit.append("tspan").attr("dy", 12).text(" wet)");
</script>
</body>
</html>
